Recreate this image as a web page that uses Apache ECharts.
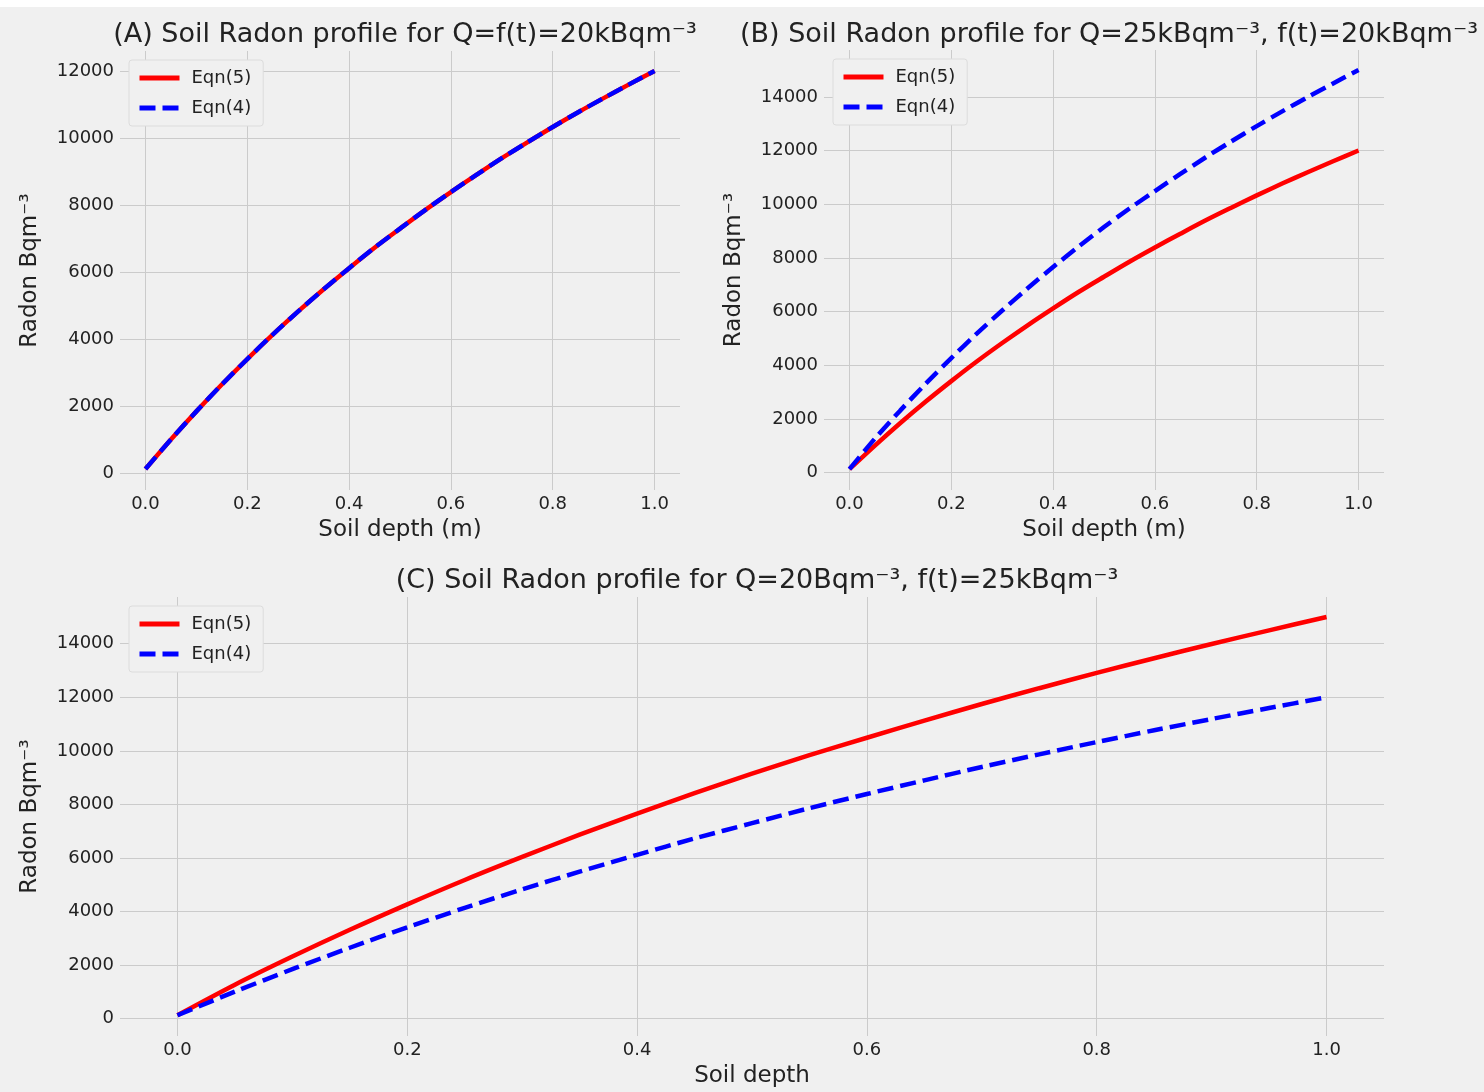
<!DOCTYPE html>
<html>
<head>
<meta charset="utf-8">
<script src="https://cdn.jsdelivr.net/npm/echarts@6/dist/echarts.min.js"></script>
<style>
  html, body { margin: 0; padding: 0; background: #f0f0f0; }
  #main { width: 1484px; height: 1092px; }
</style>
</head>
<body>
<div id="main"></div>
<script>
// soil depth (m)
const depth = [0, 0.05, 0.1, 0.15, 0.2, 0.25, 0.3, 0.35, 0.4, 0.45, 0.5,
               0.55, 0.6, 0.65, 0.7, 0.75, 0.8, 0.85, 0.9, 0.95, 1.0];

// radon, Bq m^-3
const profile20k = [130, 1010, 1850, 2650, 3410, 4140, 4830, 5490, 6120, 6730, 7300,
                    7860, 8390, 8900, 9400, 9870, 10330, 10770, 11190, 11600, 12000];
const profile25k = [130, 1270, 2320, 3320, 4270, 5180, 6040, 6870, 7660, 8420, 9150,
                    9840, 10490, 11130, 11750, 12340, 12910, 13460, 13990, 14500, 15000];

const titles = [
  '(A) Soil Radon profile for Q=f(t)=20kBqm\u207B\u00B3',
  '(B) Soil Radon profile for Q=25kBqm\u207B\u00B3, f(t)=20kBqm\u207B\u00B3',
  '(C) Soil Radon profile for Q=20Bqm\u207B\u00B3, f(t)=25kBqm\u207B\u00B3'
];
const xNames = ['Soil depth (m)', 'Soil depth (m)', 'Soil depth'];
const yName = 'Radon Bqm\u207B\u00B3';

// which curve goes where: [Eqn(5), Eqn(4)]
const panelData = [
  [profile20k, profile20k],
  [profile20k, profile25k],
  [profile25k, profile20k]
];
const yRange = [[-495, 12595], [-645, 15745], [-645, 15745]];

const grids = [
  { left: 120, top: 51, width: 560, height: 439 },
  { left: 824, top: 50, width: 560, height: 440 },
  { left: 120, top: 597, width: 1264, height: 439 }
];

const textColor = '#222';
const gridColor = '#cbcbcb';
const font = 'DejaVu Sans';

function pairs(ys) {
  return depth.map((d, i) => [d, ys[i]]);
}

const xAxis = [], yAxis = [], series = [], legend = [], title = [];
grids.forEach((g, i) => {
  xAxis.push({
    type: 'value', gridIndex: i, min: -0.05, max: 1.05,
    minInterval: 0.2, maxInterval: 0.2,
    name: xNames[i], nameLocation: 'middle', nameGap: 29,
    nameTextStyle: { color: textColor, fontSize: 23, fontFamily: font },
    axisLine: { show: false }, axisTick: { show: false },
    axisLabel: {
      showMinLabel: false, showMaxLabel: false, margin: 5,
      color: textColor, fontSize: 18, fontFamily: font,
      formatter: v => v.toFixed(1)
    },
    splitLine: { show: true, showMinLine: false, showMaxLine: false, lineStyle: { color: gridColor, width: 1 } }
  });
  yAxis.push({
    type: 'value', gridIndex: i, min: yRange[i][0], max: yRange[i][1],
    minInterval: 2000, maxInterval: 2000,
    name: yName, nameLocation: 'middle', nameGap: 78,
    nameTextStyle: { color: textColor, fontSize: 23, fontFamily: font },
    axisLine: { show: false }, axisTick: { show: false },
    axisLabel: {
      showMinLabel: false, showMaxLabel: false, margin: 6,
      color: textColor, fontSize: 18, fontFamily: font,
      formatter: v => String(v)
    },
    splitLine: { show: true, showMinLine: false, showMaxLine: false, lineStyle: { color: gridColor, width: 1 } }
  });
  series.push({
    name: 'Eqn(5)', type: 'line', xAxisIndex: i, yAxisIndex: i,
    data: pairs(panelData[i][0]), smooth: 0.3, symbol: 'none',
    lineStyle: { color: '#ff0000', width: 4.5 }, itemStyle: { color: '#ff0000' }
  });
  series.push({
    name: 'Eqn(4)', type: 'line', xAxisIndex: i, yAxisIndex: i,
    data: pairs(panelData[i][1]), smooth: 0.3, symbol: 'none',
    lineStyle: { color: '#0000ff', width: 4.5, type: [16, 7] }, itemStyle: { color: '#0000ff' }
  });
  legend.push({
    data: ['Eqn(5)', 'Eqn(4)'], orient: 'vertical',
    left: g.left + 9, top: g.top + 9,
    itemWidth: 40, itemHeight: 14, itemGap: 12,
    padding: [9, 12, 9, 8],
    itemStyle: { opacity: 0 },
    lineStyle: { width: 5 },
    backgroundColor: '#f0f0f0', borderColor: '#dcdcdc', borderWidth: 1, borderRadius: 3,
    textStyle: { color: textColor, fontSize: 18, fontFamily: font, padding: [0, 0, 0, 7] },
    selectedMode: false
  });
  title.push({
    text: titles[i], left: g.left + g.width / 2, textAlign: 'center',
    top: i < 2 ? 16 : 562,
    textStyle: { color: textColor, fontSize: 27, fontWeight: 'normal', fontFamily: font }
  });
});

const chart = echarts.init(document.getElementById('main'), null, { renderer: 'canvas' });
chart.setOption({
  backgroundColor: '#f0f0f0',
  animation: false,
  title: title,
  legend: legend,
  grid: grids,
  xAxis: xAxis,
  yAxis: yAxis,
  series: series,
  graphic: [{ type: 'rect', shape: { x: 0, y: 0, width: 1484, height: 7 }, style: { fill: '#fff' } }]
});
window.addEventListener('resize', chart.resize);
</script>
</body>
</html>
